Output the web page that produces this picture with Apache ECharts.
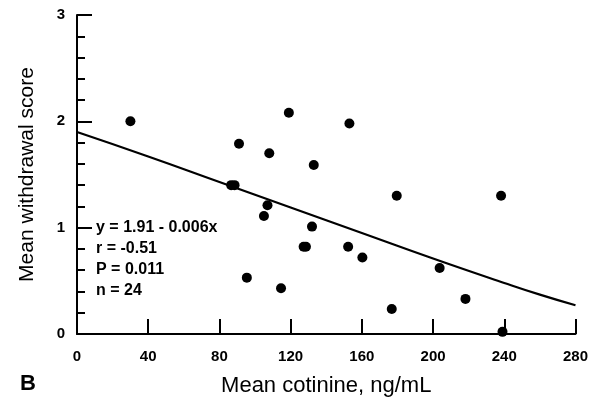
<!DOCTYPE html>
<html>
<head>
<meta charset="utf-8">
<script src="https://cdn.jsdelivr.net/npm/echarts@6/dist/echarts.min.js"></script>
<style>
html,body{margin:0;padding:0;background:#fff;}
#chart{width:591px;height:404px;}
</style>
</head>
<body>
<div id="chart"></div>
<script>
var cotinine = [30, 119, 91, 108, 133, 153, 86.6, 88.5, 107, 105, 132, 127.3, 128.6, 95.4, 114.6, 179.6, 238.2, 152.3, 160.3, 203.7, 218.2, 176.8, 239];
var withdrawal = [2.0, 2.08, 1.79, 1.7, 1.59, 1.98, 1.4, 1.4, 1.21, 1.11, 1.01, 0.82, 0.82, 0.53, 0.43, 1.3, 1.3, 0.82, 0.72, 0.62, 0.33, 0.235, 0.02];
var fitX = [0, 40, 80, 120, 160, 200, 240, 260, 280];
var fitY = [1.9, 1.67, 1.43, 1.19, 0.95, 0.71, 0.48, 0.37, 0.27];
var xTicks = [0, 40, 80, 120, 160, 200, 240, 280];
var yTicks = [0, 1, 2, 3];
var statsText = ['y = 1.91 - 0.006x', 'r = -0.51', 'P = 0.011', 'n = 24'];
var panelLabel = 'B';
var xTitle = 'Mean cotinine, ng/mL';
var yTitle = 'Mean withdrawal score';

var points = cotinine.map(function (x, i) { return [x, withdrawal[i]]; });
var fit = fitX.map(function (x, i) { return [x, fitY[i]]; });
var font = 'Liberation Sans, Arial, sans-serif';

var chart = echarts.init(document.getElementById('chart'), null, {renderer: 'canvas'});
chart.setOption({
  animation: false,
  backgroundColor: '#fff',
  grid: {left: 77, right: 14, top: 15, bottom: 70},
  xAxis: {
    type: 'value', min: 0, max: 280, interval: 40,
    axisLine: {show: true, lineStyle: {color: '#000', width: 2}},
    axisTick: {show: true, inside: true, length: 15, lineStyle: {color: '#000', width: 2}},
    splitLine: {show: false},
    axisLabel: {color: '#000', fontSize: 15, fontFamily: font, fontWeight: 'bold', margin: 15,
      formatter: function (v) { return xTicks.indexOf(v) >= 0 ? String(v) : ''; }},
    name: xTitle, nameLocation: 'middle', nameGap: 41,
    nameTextStyle: {color: '#000', fontSize: 22, fontFamily: font}
  },
  yAxis: {
    type: 'value', min: 0, max: 3, interval: 1,
    axisLine: {show: true, lineStyle: {color: '#000', width: 2}},
    axisTick: {show: true, inside: true, length: 15, lineStyle: {color: '#000', width: 2}},
    minorTick: {show: true, splitNumber: 5, length: 8, lineStyle: {color: '#000', width: 2}},
    splitLine: {show: false},
    axisLabel: {color: '#000', fontSize: 15, fontFamily: font, fontWeight: 'bold', margin: 12,
      formatter: function (v) { return yTicks.indexOf(v) >= 0 ? String(v) : ''; }},
    name: yTitle, nameLocation: 'middle', nameGap: 39,
    nameTextStyle: {color: '#000', fontSize: 21, fontFamily: font}
  },
  graphic: [
    {type: 'text', left: 20, top: 373, style: {text: panelLabel, fill: '#000', font: 'bold 22px ' + font}},
    {type: 'text', left: 96, top: 217, style: {text: statsText.join('\n'), fill: '#000', font: 'bold 16px ' + font, lineHeight: 21}}
  ],
  series: [
    {type: 'line', data: fit, showSymbol: false, smooth: true, lineStyle: {color: '#000', width: 2.2}, z: 2},
    {type: 'scatter', data: points, symbol: 'circle', symbolSize: 10, itemStyle: {color: '#000', opacity: 1}, z: 3}
  ]
});
</script>
</body>
</html>
